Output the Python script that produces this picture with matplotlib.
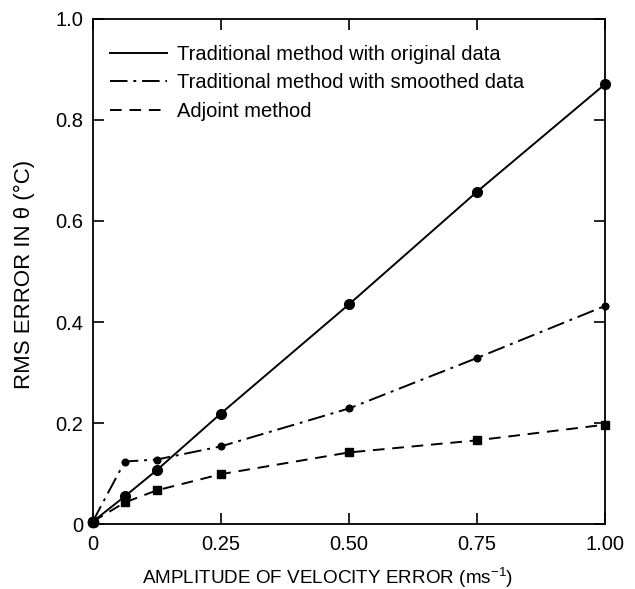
import numpy as np
import matplotlib
matplotlib.use("Agg")
import matplotlib.pyplot as plt

plt.rcParams['font.family'] = ['Liberation Sans', 'DejaVu Sans']
plt.rcParams['mathtext.fontset'] = 'custom'
plt.rcParams['mathtext.rm'] = 'Liberation Sans'

# amplitude of velocity error (m/s)
amp = [0.0, 0.0625, 0.125, 0.25, 0.5, 0.75, 1.0]
# RMS error in theta (deg C)
trad_orig = [0.005, 0.055, 0.107, 0.219, 0.435, 0.658, 0.871]
trad_smooth = [0.005, 0.124, 0.128, 0.154, 0.229, 0.329, 0.432]
adjoint = [0.005, 0.043, 0.067, 0.099, 0.142, 0.166, 0.197]

labels = ['Traditional method with original data',
          'Traditional method with smoothed data',
          'Adjoint method']

fig = plt.figure(figsize=(6.35, 5.89), dpi=100)
ax = fig.add_axes([0.146, 0.110, 0.807, 0.858])

ax.plot(amp, trad_orig, '-', color='black', lw=1.4, marker='o', ms=7,
        clip_on=False, label=labels[0])
ax.plot(amp, trad_smooth, color='black', lw=1.4, marker='o', ms=4.8,
        dashes=[9, 3, 1.5, 3], clip_on=False, label=labels[1])
ax.plot(amp, adjoint, color='black', lw=1.4, marker='s', ms=5.5,
        dashes=[6, 4], clip_on=False, label=labels[2])
ax.plot([0], [0.005], 'o', color='black', ms=7.5, clip_on=False)

ax.set_xlim(0, 1.0)
ax.set_ylim(0, 1.0)
ax.set_xticks([0, 0.25, 0.5, 0.75, 1.0])
ax.set_xticklabels(['0', '0.25', '0.50', '0.75', '1.00'])
ax.set_yticks([0, 0.2, 0.4, 0.6, 0.8, 1.0])
ax.set_yticklabels(['0', '0.2', '0.4', '0.6', '0.8', '1.0'])
ax.tick_params(direction='in', length=8, width=1.2, top=True, right=True,
               labelsize=14.5)
ax.tick_params(axis='x', pad=8)
ax.tick_params(axis='y', pad=7)
for s in ax.spines.values():
    s.set_linewidth(1.3)

ax.set_xlabel(r'AMPLITUDE OF VELOCITY ERROR (ms$^{\mathregular{-1}}$)', fontsize=13.6)
ax.xaxis.set_label_coords(0.459, -0.081)
ax.set_ylabel('RMS ERROR IN θ (°C)', fontsize=16)
ax.yaxis.set_label_coords(-0.112, 0.495)

ax.legend(loc='upper left', frameon=False, fontsize=14.5, handlelength=2.8,
          handletextpad=0.5, labelspacing=0.48, borderaxespad=0.3,
          markerscale=0, bbox_to_anchor=(0.007, 0.977))

fig.savefig('out.png', dpi=100)
